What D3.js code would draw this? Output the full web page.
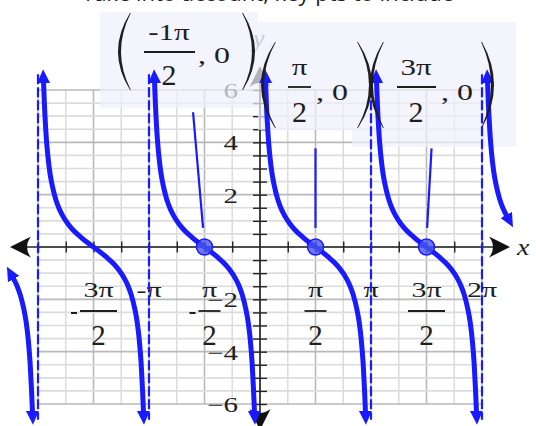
<!DOCTYPE html>
<html>
<head>
<meta charset="utf-8">
<title>cot x</title>
<script src="https://cdn.jsdelivr.net/npm/d3@7"></script>
<style>
  body { margin: 0; background: #fff; }
  svg { display: block; }
  .serif { font-family: "Liberation Serif", "DejaVu Serif", serif; fill: #1e1e1e; }
</style>
</head>
<body>
<script>
var PI = Math.PI;

// vertical asymptotes drawn dashed
var asymptotes = [-2 * PI, -PI, PI, 2 * PI];
// left asymptote of every full branch
var branchStarts = [-2 * PI, -PI, 0, PI];
// one branch: x offset from its asymptote, y value
var branchOffsets = [0.157, 0.18, 0.22, 0.27, 0.33, 0.4, 0.5, 0.6, 0.7, 0.85, 1.0, 1.2, 1.4, 1.571,
                     1.74, 1.94, 2.14, 2.29, 2.44, 2.54, 2.64, 2.74, 2.81, 2.87, 2.92, 2.96, 2.985];
var branchValues  = [6.3, 5.5, 4.47, 3.6, 2.9, 2.37, 1.83, 1.46, 1.19, 0.88, 0.64, 0.39, 0.17, 0,
                     -0.17, -0.39, -0.64, -0.88, -1.19, -1.46, -1.83, -2.37, -2.9, -3.6, -4.47, -5.5, -6.3];
// cut-off branches at the left and right edges
var leftTail = { start: -3 * PI, from: 2.44, to: 3 };
var rightTail = { start: 2 * PI, from: 0, to: 0.7 };

// zeros marked with a dot and a label
var zeroPoints = [-PI / 2, PI / 2, 3 * PI / 2];
var leaderFrom = [[-1.895, 5.15], [PI / 2, 3.77], [4.855, 3.77]];
var leaderTo   = [[-1.612, 0.73], [PI / 2, 0.73], [4.73, 0.73]];

// tick labels
var yLabelVals = [6, 4, 2, -2, -4, -6];
var xLabelVals = [-1.5, -1, -0.5, 0.5, 1, 1.5, 2]; // in units of pi
var xLabelSign = ["-", "-", "-", "", "", "", ""];
var xLabelNum  = ["3\u03c0", "\u03c0", "\u03c0", "\u03c0", "\u03c0", "3\u03c0", "2\u03c0"];
var xLabelDen  = ["2", "", "2", "2", "", "2", ""];

var width = 536, height = 426;
var blue = "#1a1aff";
var squash = 0.72;

var svg = d3.select("body").append("svg")
  .attr("width", width)
  .attr("height", height);

var x = d3.scaleLinear().domain([-2 * PI, 2 * PI]).range([38, 482]);
var y = d3.scaleLinear().domain([-6, 6]).range([404, 90]);
var x0 = x(0), y0 = y(0);

var defs = svg.append("defs");
defs.append("marker")
  .attr("id", "barrow")
  .attr("markerUnits", "userSpaceOnUse")
  .attr("viewBox", "0 -8 16 16")
  .attr("markerWidth", 16).attr("markerHeight", 16)
  .attr("refX", 1).attr("refY", 0)
  .attr("orient", "auto-start-reverse")
  .append("path")
  .attr("d", "M0,-6.5 L14,0 L0,6.5 Z")
  .attr("fill", blue);

// ---- grid ----
var grid = svg.append("g");
var vLines = d3.range(-8, 9).map(function (k) { return k * PI / 4; });
var hLines = d3.range(-12, 13).map(function (k) { return k / 2; });

grid.selectAll("line.v")
  .data(vLines)
  .enter().append("line")
  .attr("x1", function (d) { return x(d); })
  .attr("x2", function (d) { return x(d); })
  .attr("y1", y(6)).attr("y2", y(-6))
  .attr("stroke", function (d, i) { return (i % 2 === 0) ? "#b9b9b9" : "#dcdcdc"; })
  .attr("stroke-width", 1.6);

grid.selectAll("line.h")
  .data(hLines)
  .enter().append("line")
  .attr("x1", x(-2 * PI)).attr("x2", x(2 * PI))
  .attr("y1", function (d) { return y(d); })
  .attr("y2", function (d) { return y(d); })
  .attr("stroke", function (d, i) { return (i % 4 === 0) ? "#b9b9b9" : "#dcdcdc"; })
  .attr("stroke-width", 1.6);

// ---- axes ----
function axisArrow(tx, ty, angle) {
  svg.append("path")
    .attr("d", "M0,0 L-21,-10.5 Q-13,0 -21,10.5 Z")
    .attr("transform", "translate(" + tx + "," + ty + ") rotate(" + angle + ")")
    .attr("fill", "#111");
}

svg.append("line")
  .attr("x1", 12).attr("x2", 508)
  .attr("y1", y0).attr("y2", y0)
  .attr("stroke", "#222").attr("stroke-width", 1.6);
svg.append("line")
  .attr("x1", x0).attr("x2", x0)
  .attr("y1", 68).attr("y2", 428)
  .attr("stroke", "#222").attr("stroke-width", 1.6);
axisArrow(510, y0, 0);
axisArrow(10, y0, 180);
axisArrow(x0, 430, 90);
axisArrow(x0, 66, -90);

// tick marks
svg.append("g")
  .attr("transform", "translate(0," + (y0 - 5.5) + ")")
  .call(d3.axisBottom(x).tickValues(vLines.filter(function (d) { return d !== 0; }))
    .tickSize(11).tickFormat(""))
  .call(function (g) {
    g.select(".domain").remove();
    g.selectAll("line").attr("stroke", "#222").attr("stroke-width", 1.4);
  });

svg.append("g")
  .attr("transform", "translate(" + (x0 + 7) + ",0)")
  .call(d3.axisLeft(y).tickValues(hLines.filter(function (d) { return d !== 0; }))
    .tickSize(14).tickFormat(""))
  .call(function (g) {
    g.select(".domain").remove();
    g.selectAll("line").attr("stroke", "#222").attr("stroke-width", 1.4);
  });

// y tick labels
yLabelVals.forEach(function (v) {
  svg.append("text")
    .attr("class", "serif")
    .attr("text-anchor", "end")
    .attr("font-size", 29)
    .attr("transform", "translate(238," + (y(v) + 8) + ") scale(1," + squash + ")")
    .text(v < 0 ? "\u2212" + Math.abs(v) : String(v));
});

// x tick labels (fractions of pi)
var numBase = 297, barY = 311, denBase = 345;
xLabelVals.forEach(function (v, i) {
  var cx = x(v * PI);
  if (xLabelDen[i] === "") {
    svg.append("text")
      .attr("class", "serif")
      .attr("text-anchor", "middle")
      .attr("font-size", 30)
      .attr("transform", "translate(" + cx + "," + numBase + ") scale(1," + squash + ")")
      .text(xLabelSign[i] + xLabelNum[i]);
    return;
  }
  var barW = xLabelNum[i].length > 1 ? 37 : 22;
  var signW = xLabelSign[i] ? 10 : 0;
  var left = cx - (barW + signW) / 2 + signW;
  var mid = left + barW / 2;
  if (xLabelSign[i]) {
    svg.append("line")
      .attr("x1", left - 9).attr("x2", left - 3)
      .attr("y1", barY + 2).attr("y2", barY + 2)
      .attr("stroke", "#1e1e1e").attr("stroke-width", 2);
  }
  svg.append("text")
    .attr("class", "serif")
    .attr("text-anchor", "middle")
    .attr("font-size", 30)
    .attr("transform", "translate(" + mid + "," + numBase + ") scale(1," + squash + ")")
    .text(xLabelNum[i]);
  svg.append("line")
    .attr("x1", left).attr("x2", left + barW)
    .attr("y1", barY).attr("y2", barY)
    .attr("stroke", "#1e1e1e").attr("stroke-width", 1.8);
  svg.append("text")
    .attr("class", "serif")
    .attr("text-anchor", "middle")
    .attr("font-size", 29)
    .attr("x", mid).attr("y", denBase)
    .text(xLabelDen[i]);
});

// axis names
svg.append("text")
  .attr("class", "serif")
  .attr("font-style", "italic")
  .attr("font-size", 28)
  .attr("transform", "translate(517,255) scale(1,0.85)")
  .text("x");
svg.append("text")
  .attr("class", "serif")
  .attr("font-style", "italic")
  .attr("font-size", 26)
  .attr("x", 253).attr("y", 47)
  .style("fill", "#666")
  .text("y");

// cut-off heading line at the very top (only its lower edge shows)
svg.append("text")
  .attr("x", 268).attr("y", 1)
  .attr("text-anchor", "middle")
  .attr("font-family", "'Open Sans', sans-serif")
  .attr("font-size", 22)
  .attr("fill", "#222")
  .text("Take into account, key pts to include");

// ---- label boxes (semi transparent) ----
var boxes = [
  { x: 100, y: 12, w: 158, h: 96 },
  { x: 258, y: 22, w: 94, h: 108 },
  { x: 352, y: 22, w: 164, h: 125 }
];
svg.selectAll("rect.box")
  .data(boxes)
  .enter().append("rect")
  .attr("x", function (d) { return d.x; })
  .attr("y", function (d) { return d.y; })
  .attr("width", function (d) { return d.w; })
  .attr("height", function (d) { return d.h; })
  .attr("fill", "#eef0fb")
  .attr("opacity", 0.72);

// ---- asymptotes ----
svg.selectAll("line.asym")
  .data(asymptotes)
  .enter().append("line")
  .attr("x1", function (d) { return x(d); })
  .attr("x2", function (d) { return x(d); })
  .attr("y1", y(6.6)).attr("y2", y(-6.6))
  .attr("stroke", blue)
  .attr("stroke-width", 2.2)
  .attr("stroke-dasharray", "10,3");

// ---- curves ----
var branch = branchOffsets.map(function (o, i) { return [o, branchValues[i]]; });
var line = d3.line()
  .x(function (d) { return x(d[0]); })
  .y(function (d) { return y(d[1]); })
  .curve(d3.curveMonotoneX);

var pieces = branchStarts.map(function (s) {
  return branch.map(function (p) { return [s + p[0], p[1]]; });
});
pieces.push(branch.filter(function (p) { return p[0] >= leftTail.from - 1e-9; })
  .map(function (p) { return [leftTail.start + p[0], p[1]]; }));
pieces.push(branch.filter(function (p) { return p[0] <= rightTail.to + 1e-9; })
  .map(function (p) { return [rightTail.start + p[0], p[1]]; }));

svg.selectAll("path.branch")
  .data(pieces)
  .enter().append("path")
  .attr("d", function (d) { return line(d); })
  .attr("fill", "none")
  .attr("stroke", blue)
  .attr("stroke-width", 5)
  .attr("marker-start", "url(#barrow)")
  .attr("marker-end", "url(#barrow)");

// leader lines from labels to zeros
svg.selectAll("line.leader")
  .data(leaderFrom)
  .enter().append("line")
  .attr("x1", function (d) { return x(d[0]); })
  .attr("y1", function (d) { return y(d[1]); })
  .attr("x2", function (d, i) { return x(leaderTo[i][0]); })
  .attr("y2", function (d, i) { return y(leaderTo[i][1]); })
  .attr("stroke", blue)
  .attr("stroke-width", 2.2);

// zero dots
svg.selectAll("circle.zero")
  .data(zeroPoints)
  .enter().append("circle")
  .attr("cx", function (d) { return x(d); })
  .attr("cy", y0)
  .attr("r", 8)
  .attr("fill", "#4656ee")
  .attr("fill-opacity", 0.8)
  .attr("stroke", blue)
  .attr("stroke-width", 1.5);

// ---- point labels "(a/b, 0)" ----
function paren(xEnd, xBulge, top, bot) {
  var dir = xBulge < xEnd ? 1 : -1;
  var mid = (top + bot) / 2;
  var cOut = 2 * xBulge - xEnd;
  var cIn = 2 * (xBulge + dir * 2.6) - xEnd;
  svg.append("path")
    .attr("d", "M" + xEnd + "," + top +
      " Q" + cOut + "," + mid + " " + xEnd + "," + bot +
      " L" + (xEnd + dir * 0.8) + "," + bot +
      " Q" + cIn + "," + mid + " " + (xEnd + dir * 0.8) + "," + top + " Z")
    .attr("fill", "#1e1e1e");
}

var pointLabels = [
  { num: "-1\u03c0", mid: 169, barL: 144, barR: 195, numB: 40, barY: 52, denB: 85, zeroX: 198, zeroB: 63,
    pl: [130, 118, 13, 90], pr: [243, 255, 13, 90] },
  { num: "\u03c0", mid: 299.5, barL: 288, barR: 311, numB: 75, barY: 87, denB: 122, zeroX: 316, zeroB: 100,
    pl: [275, 261, 42, 128], pr: [358, 372, 42, 128] },
  { num: "3\u03c0", mid: 416, barL: 397, barR: 436, numB: 75, barY: 87, denB: 122, zeroX: 441, zeroB: 100,
    pl: [383, 370, 42, 128], pr: [482, 494, 42, 128] }
];
pointLabels.forEach(function (d) {
  paren(d.pl[0], d.pl[1], d.pl[2], d.pl[3]);
  paren(d.pr[0], d.pr[1], d.pr[2], d.pr[3]);
  svg.append("text")
    .attr("class", "serif")
    .attr("text-anchor", "middle")
    .attr("font-size", 31)
    .attr("transform", "translate(" + d.mid + "," + d.numB + ") scale(1," + squash + ")")
    .text(d.num);
  svg.append("line")
    .attr("x1", d.barL).attr("x2", d.barR)
    .attr("y1", d.barY).attr("y2", d.barY)
    .attr("stroke", "#1e1e1e").attr("stroke-width", 1.8);
  svg.append("text")
    .attr("class", "serif")
    .attr("text-anchor", "middle")
    .attr("font-size", 30)
    .attr("x", d.mid).attr("y", d.denB)
    .text("2");
  svg.append("text")
    .attr("class", "serif")
    .attr("font-size", 32)
    .attr("transform", "translate(" + d.zeroX + "," + d.zeroB + ") scale(1," + squash + ")")
    .text(", 0");
});
</script>
</body>
</html>
